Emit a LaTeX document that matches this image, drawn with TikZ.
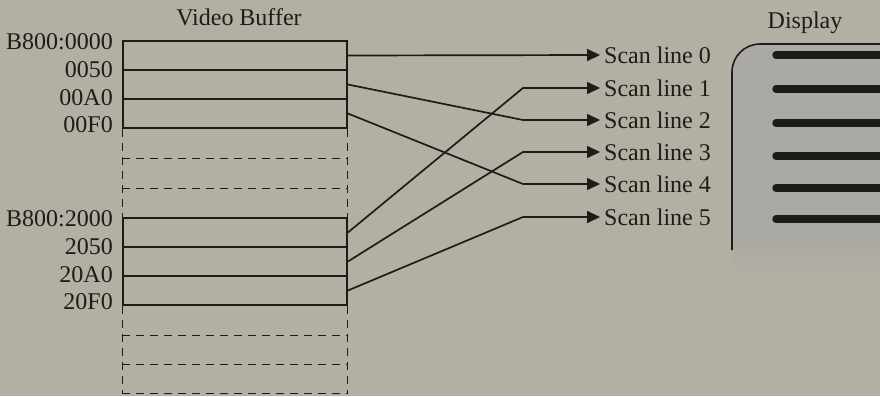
\documentclass[tikz,border=0pt]{standalone}
\usepackage{fontspec}
\setmainfont{Liberation Serif}
\usetikzlibrary{arrows.meta}
\definecolor{paper}{RGB}{180,175,163}
\definecolor{ink}{RGB}{30,28,26}
\definecolor{screen}{RGB}{171,169,163}
\tikzstyle{cell} = [rectangle, minimum width=224pt, minimum height=29pt, inner sep=0pt, draw=ink, line width=1.8pt]
\tikzstyle{gap} = [draw=ink, line width=1.1pt, dash pattern=on 8pt off 6pt]
\tikzstyle{addr} = [anchor=east, inner sep=0pt, text=ink]
\tikzstyle{scan} = [anchor=west, inner sep=4pt, text=ink]
\tikzstyle{link} = [line width=1.7pt, draw=ink, -{Triangle[length=13pt,width=12pt]}]
\tikzstyle{beam} = [line width=7.5pt, line cap=round, draw=ink]

\begin{document}
\begin{tikzpicture}[x=1pt, y=-1pt, font=\fontsize{24}{27}\selectfont]
    \fill[paper] (0,0) rectangle (880,396);
    \useasboundingbox (0,0) rectangle (880,396);

    % video buffer, first page
    \node (vb) at (239,17) [text=ink] {Video Buffer};
    \node (b0r0) [cell] at (235,55.5) {};
    \node (b0r1) [cell] at (235,84.5) {};
    \node (b0r2) [cell] at (235,113.5) {};
    \node (a0) [addr] at (113,42) {B800:0000};
    \node (a1) [addr] at (113,70) {0050};
    \node (a2) [addr] at (113,98) {00A0};
    \node (a3) [addr] at (113,125) {00F0};

    % video buffer, second page
    \node (b1r0) [cell] at (235,232.5) {};
    \node (b1r1) [cell] at (235,261.5) {};
    \node (b1r2) [cell] at (235,290.5) {};
    \node (a4) [addr] at (113,219) {B800:2000};
    \node (a5) [addr] at (113,247) {2050};
    \node (a6) [addr] at (113,275) {20A0};
    \node (a7) [addr] at (113,302) {20F0};

    % rows left out
    \draw[gap] (b0r2.south west) -- (b1r0.north west);
    \draw[gap] (b0r2.south east) -- (b1r0.north east);
    \draw[gap] ([yshift=-30pt]b0r2.south west) -- ([yshift=-30pt]b0r2.south east);
    \draw[gap] ([yshift=-60pt]b0r2.south west) -- ([yshift=-60pt]b0r2.south east);
    \draw[gap] (b1r2.south west) -- ++(0,88);
    \draw[gap] (b1r2.south east) -- ++(0,88);
    \foreach \d in {30,59,88}
        \draw[gap] ([yshift=-\d pt]b1r2.south west) -- ([yshift=-\d pt]b1r2.south east);

    % scan lines
    \node (s0) [scan] at (600,55) {Scan line 0};
    \node (s1) [scan] at (600,88) {Scan line 1};
    \node (s2) [scan] at (600,120) {Scan line 2};
    \node (s3) [scan] at (600,152) {Scan line 3};
    \node (s4) [scan] at (600,184) {Scan line 4};
    \node (s5) [scan] at (600,217) {Scan line 5};

    \draw[link] (b0r0.east) -- (s0.west);
    \draw[link] (b0r1.east) -- ([xshift=-77pt]s2.west) -- (s2.west);
    \draw[link] (b0r2.east) -- ([xshift=-77pt]s4.west) -- (s4.west);
    \draw[link] (b1r0.east) -- ([xshift=-77pt]s1.west) -- (s1.west);
    \draw[link] (b1r1.east) -- ([xshift=-77pt]s3.west) -- (s3.west);
    \draw[link] (b1r2.east) -- ([xshift=-77pt]s5.west) -- (s5.west);

    % display
    \node (disp) at (805,23) [text=ink] {Display};
    \fill[screen] (880,44) -- (760,44) .. controls (744.5,44) and (732,56.5) .. (732,72) -- (732,242) -- (880,242) -- cycle;
    \shade[top color=screen, bottom color=paper] (732,241.5) rectangle (880,276);
    \draw[ink, line width=1.6pt, rounded corners=28pt] (884,44) -- (732,44) -- (732,250);
    \foreach \y in {55,89,123,156,188,219}
        \draw[beam] (776,\y) -- (888,\y);
\end{tikzpicture}
\end{document}
